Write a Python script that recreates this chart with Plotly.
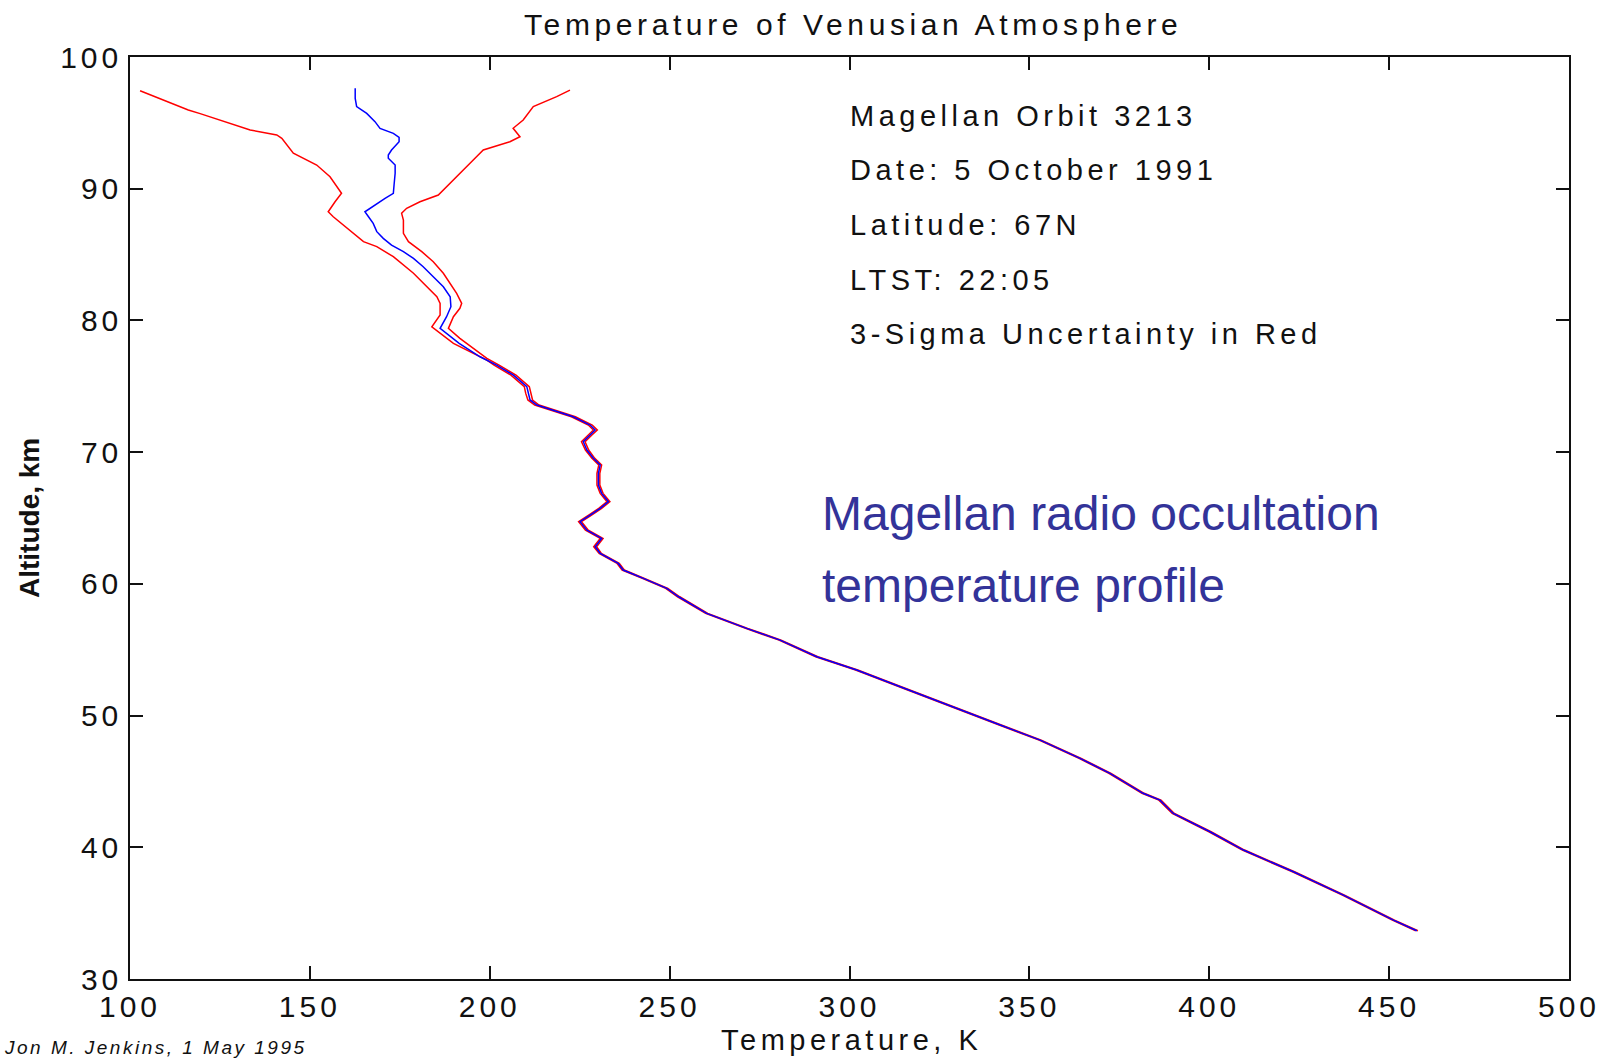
import plotly.graph_objects as go

# ---------------- data ----------------
# Retrieved temperature profile (blue): altitude (km), temperature (K)
prof_alt = [97.62, 96.86, 96.23, 95.72, 95.09, 94.58, 94.20, 93.90, 93.57, 92.94,
            92.56, 92.31, 91.80, 91.17, 90.28, 89.65, 89.27, 88.76, 88.25, 87.87,
            87.37, 86.74, 86.23, 85.72, 85.22, 84.71, 84.08, 83.32, 82.56, 81.80,
            81.04, 80.28, 79.40, 78.26, 77.24, 76.61, 75.85, 74.97, 74.46, 73.96,
            73.58, 73.20, 72.69, 72.06, 71.68, 71.30, 70.79, 70.16, 69.53, 69.02,
            68.39, 67.50, 66.87, 66.24, 65.73, 65.22, 64.72, 64.08, 63.45, 62.82,
            62.32, 61.55, 61.05, 60.42, 59.66, 59.02, 57.76, 56.62, 55.73, 54.47,
            53.46, 52.19, 51.31, 50.55, 49.28, 48.14, 46.75, 45.61, 44.10, 43.58,
            42.57, 41.18, 39.79, 38.14, 36.37, 34.47, 33.66]
prof_T = [162.6, 162.6, 163.0, 165.8, 168.1, 169.5, 173.2, 174.8, 174.8, 172.7,
          171.8, 171.8, 173.7, 173.7, 173.4, 173.2, 170.9, 168.1, 165.3, 166.3,
          167.6, 168.6, 170.4, 172.7, 176.0, 178.8, 181.5, 184.3, 187.1, 189.0,
          189.2, 188.0, 186.2, 191.5, 197.3, 201.9, 206.6, 210.3, 210.7, 211.2,
          213.1, 217.7, 223.2, 227.9, 229.3, 227.9, 226.0, 227.0, 228.8, 230.7,
          230.2, 230.2, 231.1, 233.0, 230.7, 227.9, 225.1, 227.0, 231.1, 229.3,
          230.7, 235.7, 237.1, 242.7, 249.2, 252.5, 260.3, 271.4, 280.7, 290.9,
          302.0, 314.1, 322.4, 329.8, 341.9, 353.0, 364.1, 372.4, 381.6, 386.3,
          390.0, 400.2, 409.5, 423.4, 437.3, 451.2, 457.7]

# 3-sigma lower bound (red, left)
low_alt = [97.44, 95.98, 95.70, 94.46, 94.08, 93.83, 92.69, 92.43, 91.80, 90.91,
           90.03, 89.65, 89.01, 88.25, 87.87, 85.98, 85.60, 84.84, 83.58, 82.82,
           81.80, 81.30, 80.41, 79.52, 78.26, 76.99, 76.61, 75.85, 74.97, 74.46,
           73.96, 73.58, 73.20, 72.69, 72.06, 71.68, 71.30, 70.79, 70.16, 69.53,
           69.02, 68.39, 67.50, 66.87, 66.24, 65.73, 65.22, 64.72, 64.08, 63.45,
           62.82, 62.32, 61.55, 61.05, 60.42, 59.66, 59.02, 57.76, 56.62, 55.73,
           54.47, 53.46, 52.19, 51.31, 50.55, 49.28, 48.14, 46.75, 45.61, 44.10,
           43.58, 42.57, 41.18, 39.79, 38.14, 36.37, 34.47, 33.66]
low_T = [102.8, 116.2, 119.5, 133.4, 140.8, 142.2, 145.4, 147.3, 151.9, 155.6,
         157.9, 158.8, 157.0, 155.1, 156.5, 164.9, 168.6, 173.2, 178.8, 181.5,
         185.3, 186.2, 186.2, 183.9, 189.9, 199.2, 201.2, 205.9, 209.6, 210.0,
         210.6, 212.5, 217.1, 222.7, 227.4, 228.8, 227.4, 225.5, 226.6, 228.4,
         230.3, 229.8, 229.8, 230.7, 232.6, 230.3, 227.5, 224.7, 226.6, 230.7,
         228.9, 230.4, 235.4, 236.8, 242.4, 248.9, 252.2, 260.0, 271.1, 280.4,
         290.6, 301.7, 313.8, 322.1, 329.5, 341.6, 352.7, 363.8, 372.1, 381.3,
         386.0, 389.7, 399.9, 409.2, 423.1, 437.0, 450.9, 457.4]

# 3-sigma upper bound (red, right)
high_alt = [97.49, 96.99, 96.23, 95.73, 95.22, 94.59, 93.95, 93.57, 92.94, 92.31,
            91.42, 90.41, 89.52, 89.01, 88.51, 88.13, 87.62, 86.61, 85.98, 85.22,
            84.46, 83.58, 82.82, 82.06, 81.30, 80.92, 80.28, 79.78, 79.40, 78.64,
            77.12, 76.61, 75.85, 74.97, 74.46, 73.96, 73.58, 73.20, 72.69, 72.06,
            71.68, 71.30, 70.79, 70.16, 69.53, 69.02, 68.39, 67.50, 66.87, 66.24,
            65.73, 65.22, 64.72, 64.08, 63.45, 62.82, 62.32, 61.55, 61.05, 60.42,
            59.66, 59.02, 57.76, 56.62, 55.73, 54.47, 53.46, 52.19, 51.31, 50.55,
            49.28, 48.14, 46.75, 45.61, 44.10, 43.58, 42.57, 41.18, 39.79, 38.14,
            36.37, 34.47, 33.66]
high_T = [222.3, 218.6, 212.1, 210.7, 209.3, 206.5, 208.4, 205.6, 198.2, 195.9,
          192.7, 189.0, 185.7, 180.6, 176.9, 175.5, 176.0, 176.0, 177.4, 181.1,
          184.3, 187.1, 189.0, 190.8, 192.2, 191.7, 189.9, 189.0, 188.5, 191.7,
          199.2, 202.6, 207.3, 211.0, 211.4, 211.9, 213.7, 218.3, 223.8, 228.5,
          229.9, 228.4, 226.5, 227.5, 229.2, 231.1, 230.6, 230.6, 231.5, 233.4,
          231.1, 228.3, 225.5, 227.4, 231.5, 229.7, 231.0, 236.0, 237.4, 243.0,
          249.5, 252.8, 260.6, 271.7, 281.0, 291.2, 302.3, 314.4, 322.7, 330.1,
          342.2, 353.3, 364.4, 372.7, 381.9, 386.6, 390.3, 400.5, 409.8, 423.7,
          437.6, 451.5, 458.0]

x_ticks = [100, 150, 200, 250, 300, 350, 400, 450, 500]
y_ticks = [30, 40, 50, 60, 70, 80, 90, 100]

title_text = "Temperature of Venusian Atmosphere"
x_title = "Temperature, K"
y_title = "Altitude, km"
info_lines = ["Magellan Orbit 3213", "Date: 5 October 1991", "Latitude: 67N",
              "LTST: 22:05", "3-Sigma Uncertainty in Red"]
note_lines = ["Magellan radio occultation", "temperature profile"]
credit = "Jon M. Jenkins, 1 May 1995"

# ---------------- layout geometry (pixels) ----------------
W, H = 1618, 1060
L, R, T, B = 130, 1569, 57, 979
FONT = "Liberation Sans, Arial, sans-serif"


def px(xp):
    return (xp - L) / (R - L)


def py(yp):
    return (B - yp) / (B - T)


def spaced(s, sp):
    return f"<span style='letter-spacing:{sp}px'>{s}</span>"


fig = go.Figure()
fig.add_trace(go.Scatter(x=low_T, y=low_alt, mode="lines",
                         line=dict(color="#ff0000", width=1.5), hoverinfo="skip"))
fig.add_trace(go.Scatter(x=high_T, y=high_alt, mode="lines",
                         line=dict(color="#ff0000", width=1.5), hoverinfo="skip"))
fig.add_trace(go.Scatter(x=prof_T, y=prof_alt, mode="lines",
                         line=dict(color="#0000ff", width=1.5), hoverinfo="skip"))

axis_common = dict(showgrid=False, zeroline=False, showline=True, linecolor="#111111",
                   linewidth=1.5, mirror="ticks", ticks="inside", ticklen=13,
                   tickwidth=1.5, tickcolor="#111111", automargin=False,
                   tickfont=dict(family=FONT, size=30, color="#111111"))

fig.update_layout(
    width=W, height=H,
    margin=dict(l=L, r=W - R, t=T, b=H - B, pad=0),
    plot_bgcolor="white", paper_bgcolor="white", showlegend=False,
    xaxis=dict(range=[100, 500], tickvals=x_ticks, ticklabelstandoff=0,
               ticktext=[spaced(str(v), 4) for v in x_ticks], **axis_common),
    yaxis=dict(range=[30, 100], tickvals=y_ticks,
               ticktext=[spaced(str(v), 4) for v in y_ticks], **axis_common),
)

ann = []
# title
ann.append(dict(text=spaced(title_text, 4.6), x=px(853), y=py(24.6), xanchor="center",
                yanchor="middle", font=dict(family=FONT, size=30, color="#111111")))
# x axis title
ann.append(dict(text=spaced(x_title, 4.5), x=px(851), y=py(1040), xanchor="center",
                yanchor="middle", font=dict(family=FONT, size=29, color="#111111")))
# y axis title
ann.append(dict(text="<b>" + y_title + "</b>", x=px(29), y=py(518), xanchor="center",
                yanchor="middle", textangle=-90,
                font=dict(family=FONT, size=28, color="#111111")))
# info lines
for i, line in enumerate(info_lines):
    ann.append(dict(text=spaced(line, 4.5), x=px(848), y=py(115.6 + 54.7 * i),
                    xanchor="left", yanchor="middle",
                    font=dict(family=FONT, size=29, color="#111111")))
# blue note
for i, line in enumerate(note_lines):
    ann.append(dict(text=line, x=px(820), y=py(513.4 + 72 * i), xanchor="left",
                    yanchor="middle", font=dict(family=FONT, size=48, color="#333399")))
# credit (bottom-left corner, kept fully inside the page)
ann.append(dict(text=spaced(credit, 2.5), x=px(2), y=py(1047), xanchor="left",
                yanchor="middle",
                font=dict(family=FONT, size=19, color="#111111", style="italic")))

for a in ann:
    a.update(xref="paper", yref="paper", showarrow=False)
fig.update_layout(annotations=ann)

fig.write_html("out.html")
